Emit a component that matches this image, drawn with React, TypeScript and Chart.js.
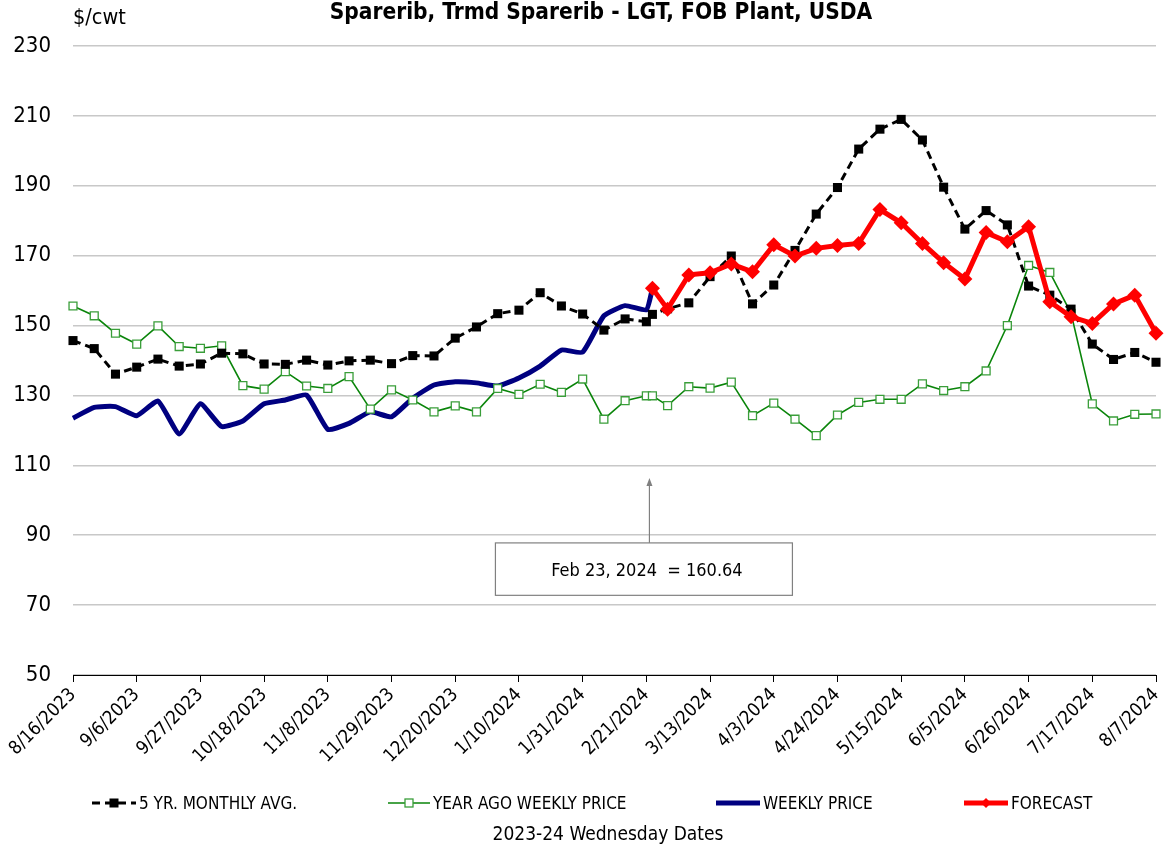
import { useEffect, useRef } from 'react';
import { Chart, registerables } from 'chart.js';

Chart.register(...registerables);

const FONT = "'DejaVu Sans Condensed', 'DejaVu Sans', sans-serif";

const chartTitle = 'Sparerib, Trmd Sparerib - LGT, FOB Plant, USDA';
const unitLabel = '$/cwt';
const xAxisTitle = '2023-24 Wednesday Dates';
const annotationText = 'Feb 23, 2024  = 160.64';
const annotationDate = '2/23/2024';

const tickLabels = [
  '8/16/2023', '9/6/2023', '9/27/2023', '10/18/2023', '11/8/2023', '11/29/2023',
  '12/20/2023', '1/10/2024', '1/31/2024', '2/21/2024', '3/13/2024', '4/3/2024',
  '4/24/2024', '5/15/2024', '6/5/2024', '6/26/2024', '7/17/2024', '8/7/2024',
];

const dates = [
  '8/16/2023', '8/23/2023', '8/30/2023', '9/6/2023', '9/13/2023', '9/20/2023', '9/27/2023',
  '10/4/2023', '10/11/2023', '10/18/2023', '10/25/2023', '11/1/2023', '11/8/2023', '11/15/2023',
  '11/22/2023', '11/29/2023', '12/6/2023', '12/13/2023', '12/20/2023', '12/27/2023', '1/3/2024',
  '1/10/2024', '1/17/2024', '1/24/2024', '1/31/2024', '2/7/2024', '2/14/2024', '2/21/2024',
  '2/23/2024', '2/28/2024', '3/6/2024', '3/13/2024', '3/20/2024', '3/27/2024', '4/3/2024',
  '4/10/2024', '4/17/2024', '4/24/2024', '5/1/2024', '5/8/2024', '5/15/2024', '5/22/2024',
  '5/29/2024', '6/5/2024', '6/12/2024', '6/19/2024', '6/26/2024', '7/3/2024', '7/10/2024',
  '7/17/2024', '7/24/2024', '7/31/2024', '8/7/2024',
];

const fiveYrAvg = [
  145.7, 143.4, 136.1, 138.1, 140.4, 138.4, 139.0, 142.1, 141.9, 139.0, 138.9, 140.1, 138.7,
  139.9, 140.1, 139.1, 141.4, 141.3, 146.4, 149.6, 153.4, 154.4, 159.4, 155.6, 153.3, 148.7,
  151.9, 151.1, 153.2, 154.8, 156.5, 164.0, 169.9, 156.2, 161.6, 171.5, 181.9, 189.5, 200.5,
  206.2, 209.0, 203.1, 189.6, 177.6, 182.9, 178.8, 161.3, 158.7, 154.7, 144.7, 140.3, 142.3,
  139.5,
];

const yearAgo = [
  155.6, 152.8, 147.8, 144.7, 149.9, 144.0, 143.5, 144.2, 132.8, 131.8, 136.8, 132.7, 132.0,
  135.4, 126.1, 131.6, 128.7, 125.3, 127.0, 125.3, 132.0, 130.3, 133.2, 130.9, 134.7, 123.2,
  128.5, 129.9, 129.9, 127.1, 132.5, 132.1, 133.8, 124.2, 127.8, 123.2, 118.5, 124.4, 128.0,
  128.9, 128.9, 133.3, 131.4, 132.5, 137.0, 150.0, 167.2, 165.2, 153.5, 127.6, 122.7, 124.6,
  124.7,
];

const weeklyPrice = [
  123.5, 126.6, 126.8, 124.2, 128.4, 119.0, 127.6, 121.1, 122.7, 127.6, 128.7, 130.1, 120.3,
  122.0, 125.3, 123.9, 129.2, 133.0, 133.9, 133.6, 132.7, 135.0, 138.4, 143.0, 142.4, 152.8,
  155.7, 154.5, 160.64, null, null, null, null, null, null, null, null, null, null, null, null,
  null, null, null, null, null, null, null, null, null, null, null, null,
];

const forecast = [
  null, null, null, null, null, null, null, null, null, null, null, null, null, null, null,
  null, null, null, null, null, null, null, null, null, null, null, null, null,
  160.64, 154.7, 164.5, 165.1, 167.6, 165.4, 173.1, 169.9, 172.1, 172.9, 173.5, 183.2, 179.4,
  173.5, 168.0, 163.3, 176.6, 174.0, 178.3, 156.8, 152.5, 150.6, 156.2, 158.7, 147.8,
];

function dayOf(s: string): number {
  const [m, d, y] = s.split('/').map(Number);
  const [m0, d0, y0] = dates[0].split('/').map(Number);
  return Math.round((Date.UTC(y, m - 1, d) - Date.UTC(y0, m0 - 1, d0)) / 86400000);
}

function toPoints(vals: (number | null)[]) {
  return dates
    .map((d, i) => ({ x: dayOf(d), y: vals[i] }))
    .filter((p) => p.y !== null) as { x: number; y: number }[];
}

export default function App() {
  const ref = useRef<HTMLCanvasElement>(null);

  useEffect(() => {
    document.body.style.margin = '0';
    const canvas = ref.current!;

    const overlay = {
      id: 'overlay',
      afterDraw(chart: any) {
        const c = chart.ctx as CanvasRenderingContext2D;
        const xs = chart.scales.x;
        const ys = chart.scales.y;
        c.save();
        c.fillStyle = '#000';
        // Title
        c.font = `bold 22.5px ${FONT}`;
        c.textAlign = 'center';
        c.textBaseline = 'alphabetic';
        c.fillText(chartTitle, 601, 19);
        // unit
        c.font = `21.5px ${FONT}`;
        c.textAlign = 'left';
        c.fillText(unitLabel, 73, 24);
        // x-axis title
        c.font = `19px ${FONT}`;
        c.textAlign = 'center';
        c.fillText(xAxisTitle, 608, 840);

        // Legend
        const ly = 803;
        const items = [
          { x1: 92, x2: 136 },
          { x1: 388, x2: 430 },
          { x1: 716, x2: 760 },
          { x1: 964, x2: 1008 },
        ];
        const dsets = chart.data.datasets;
        items.forEach((it, i) => {
          const ds = dsets[i];
          c.save();
          c.strokeStyle = ds.borderColor;
          c.lineWidth = ds.borderWidth;
          c.setLineDash(ds.borderDash || []);
          c.beginPath();
          c.moveTo(it.x1, ly);
          c.lineTo(it.x2, ly);
          c.stroke();
          c.setLineDash([]);
          const mx = (it.x1 + it.x2) / 2;
          if (i === 0) {
            c.fillStyle = '#000';
            c.fillRect(mx - 4.5, ly - 4.5, 9, 9);
          } else if (i === 1) {
            c.fillStyle = '#fff';
            c.strokeStyle = ds.pointBorderColor;
            c.lineWidth = 1.3;
            c.fillRect(mx - 4, ly - 4, 8, 8);
            c.strokeRect(mx - 4, ly - 4, 8, 8);
          } else if (i === 3) {
            c.fillStyle = ds.borderColor;
            c.beginPath();
            c.moveTo(mx, ly - 5);
            c.lineTo(mx + 5, ly);
            c.lineTo(mx, ly + 5);
            c.lineTo(mx - 5, ly);
            c.closePath();
            c.fill();
          }
          c.restore();
          c.font = `17px ${FONT}`;
          c.fillStyle = '#000';
          c.textAlign = 'left';
          c.textBaseline = 'alphabetic';
          c.fillText(ds.label, it.x2 + 3, 809);
        });

        // Annotation
        const ax = xs.getPixelForValue(dayOf(annotationDate)) - 3;
        const tipY = ys.getPixelForValue(106.4);
        const boxTop = ys.getPixelForValue(87.8);
        const boxBottom = ys.getPixelForValue(72.8);
        const bx1 = ax - 154;
        const bx2 = ax + 143;
        c.strokeStyle = '#808080';
        c.fillStyle = '#808080';
        c.lineWidth = 1.2;
        c.beginPath();
        c.moveTo(ax, boxTop);
        c.lineTo(ax, tipY + 6);
        c.stroke();
        c.beginPath();
        c.moveTo(ax, tipY);
        c.lineTo(ax + 3, tipY + 8);
        c.lineTo(ax - 3, tipY + 8);
        c.closePath();
        c.fill();
        c.fillStyle = '#fff';
        c.fillRect(bx1, boxTop, bx2 - bx1, boxBottom - boxTop);
        c.strokeRect(bx1, boxTop, bx2 - bx1, boxBottom - boxTop);
        c.fillStyle = '#000';
        c.font = `18px ${FONT}`;
        c.textAlign = 'center';
        c.fillText(annotationText, (bx1 + bx2) / 2 + 3, boxTop + 33);
        c.restore();
      },
    };

    const chart = new Chart(canvas, {
      type: 'line',
      data: {
        datasets: [
          {
            label: '5 YR. MONTHLY AVG.',
            data: toPoints(fiveYrAvg),
            borderColor: '#000000',
            backgroundColor: '#000000',
            borderWidth: 3,
            borderDash: [8, 5],
            pointStyle: 'rect',
            pointRadius: 6.4,
            pointBackgroundColor: '#000000',
            pointBorderColor: '#000000',
            pointBorderWidth: 0,
            tension: 0,
            order: 1,
            clip: false,
          },
          {
            label: 'YEAR AGO WEEKLY PRICE',
            data: toPoints(yearAgo),
            borderColor: '#0a850a',
            borderWidth: 1.6,
            pointStyle: 'rect',
            pointRadius: 5.6,
            pointBackgroundColor: '#ffffff',
            pointBorderColor: '#3a9e3a',
            pointBorderWidth: 1.3,
            tension: 0,
            order: 2,
            clip: false,
          },
          {
            label: 'WEEKLY PRICE',
            data: toPoints(weeklyPrice),
            borderColor: '#000080',
            borderWidth: 5,
            pointRadius: 0,
            tension: 0.15,
            order: 3,
            clip: false,
          },
          {
            label: 'FORECAST',
            data: toPoints(forecast),
            borderColor: '#ff0000',
            borderWidth: 5,
            pointStyle: 'rectRot',
            pointRadius: 7.5,
            pointBackgroundColor: '#ff0000',
            pointBorderColor: '#ff0000',
            pointBorderWidth: 0,
            tension: 0,
            order: 0,
            clip: false,
          },
        ],
      },
      options: {
        responsive: false,
        animation: false,
        devicePixelRatio: 1,
        layout: { padding: { top: 46, right: 15, left: 0, bottom: 0 } },
        plugins: { legend: { display: false }, tooltip: { enabled: false }, title: { display: false } },
        scales: {
          x: {
            type: 'linear',
            min: 0,
            max: dayOf(dates[dates.length - 1]),
            afterFit: (s: any) => {
              s.height = 170;
              s.paddingRight = 0;
              s.paddingLeft = 0;
            },
            ticks: {
              stepSize: 21,
              autoSkip: false,
              minRotation: 45,
              maxRotation: 45,
              padding: 2,
              color: '#000',
              font: { family: FONT, size: 18.5 },
              callback: (_v: any, i: number) => tickLabels[i],
            },
            grid: { drawOnChartArea: false, drawTicks: true, tickLength: 7, color: '#000', lineWidth: 1 },
            border: { display: true, color: '#000', width: 1 },
          },
          y: {
            min: 50,
            max: 230,
            afterFit: (s: any) => {
              s.width = 73;
              s.paddingTop = 0;
              s.paddingBottom = 0;
            },
            ticks: {
              stepSize: 20,
              padding: 22,
              color: '#000',
              font: { family: FONT, size: 22 },
            },
            grid: { color: '#c8c8c8', lineWidth: 1.5, drawTicks: false },
            border: { display: false },
          },
        },
      },
      plugins: [overlay],
    });
    return () => chart.destroy();
  }, []);

  return <canvas ref={ref} width={1171} height={845} style={{ display: 'block' }} />;
}
